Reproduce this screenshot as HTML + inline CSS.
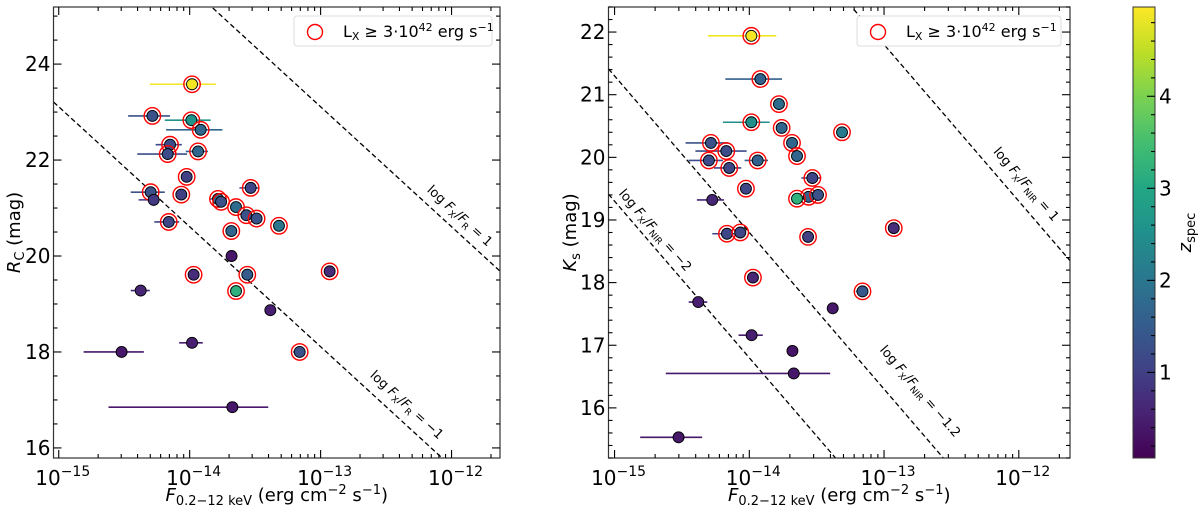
<!DOCTYPE html>
<html><head><meta charset="utf-8">
<style>
html,body{margin:0;padding:0;background:#fff;width:1200px;height:511px;overflow:hidden;}
svg{display:block;font-family:"DejaVu Sans","Liberation Sans",sans-serif;}
</style></head>
<body>
<svg id="fig" width="1200" height="511" viewBox="0 0 1200 511" xmlns="http://www.w3.org/2000/svg"></svg>
<script>
// ---------- DATA ----------
const leftLogF   = [-13.982,-14.285,-13.987,-13.916,-14.15,-14.168,-13.936,-14.023,-13.534,-14.298,-14.275,-14.064,-13.784,-13.76,-13.646,-13.567,-13.489,-13.318,-14.16,-13.682,-13.68,-12.931,-13.97,-13.56,-13.646,-14.374,-13.384,-13.982,-13.16,-14.52,-13.674];
const leftMag    = [23.58,22.92,22.83,22.63,22.32,22.125,22.18,21.65,21.42,21.33,21.17,21.28,21.19,21.13,21.02,20.85,20.78,20.63,20.71,20.52,20.0,19.68,19.61,19.61,19.27,19.28,18.87,18.19,18.0,18.0,16.85];
const leftErrLo  = [-14.305,-14.47,-14.19,-14.18,-14.26,-14.40,-14.03,null,-13.62,-14.45,-14.39,null,-13.85,null,null,null,null,null,-14.27,null,null,null,null,null,null,-14.45,null,-14.08,-13.21,-14.81,-14.62];
const leftErrHi  = [-13.80,-14.15,-13.84,-13.75,-14.06,-14.02,-13.86,null,-13.47,-14.19,-14.25,null,-13.72,null,null,null,null,null,-14.08,null,null,null,null,null,null,-14.305,null,-13.90,-13.12,-14.35,-13.40];
const leftZ      = [4.9,1.3,2.6,1.7,1.2,1.2,1.7,1.0,1.1,1.3,0.9,1.0,1.8,1.3,1.8,1.3,1.3,2.0,1.1,1.7,0.4,0.7,0.7,1.5,3.2,0.6,0.5,0.5,1.3,0.4,0.4];
const leftRing   = [1,1,1,1,1,1,1,1,1,1,0,1,1,1,1,1,1,1,1,1,0,1,1,1,1,0,0,0,1,0,0];
const rightLogF  = [-13.985,-13.918,-13.78,-13.985,-13.76,-13.312,-13.683,-14.285,-14.171,-13.646,-14.30,-13.938,-14.149,-13.532,-14.025,-13.56,-13.49,-13.646,-14.275,-12.928,-14.166,-14.067,-13.564,-13.973,-13.16,-14.379,-13.381,-13.983,-13.68,-13.67,-14.525];
const rightMag   = [21.94,21.25,20.85,20.56,20.47,20.40,20.23,20.23,20.10,20.02,19.95,19.95,19.83,19.67,19.50,19.37,19.40,19.34,19.32,18.87,18.78,18.80,18.73,18.08,17.86,17.69,17.59,17.16,16.91,16.55,15.53];
const rightErrLo = [-14.307,-14.178,-13.82,-14.196,null,null,null,-14.473,-14.40,null,-14.45,-14.035,-14.262,-13.614,null,null,null,null,-14.389,null,-14.275,null,null,null,-13.21,-14.45,null,-14.08,null,-14.62,-14.81];
const rightErrHi = [-13.80,-13.757,-13.74,-13.849,null,null,null,-14.158,-14.02,null,-14.196,-13.861,-14.06,-13.465,null,null,null,null,-14.188,null,-14.10,null,null,null,-13.12,-14.312,null,-13.90,null,-13.40,-14.35];
const rightZ     = [4.9,1.6,1.8,2.5,1.7,2.1,1.7,1.3,1.2,1.7,1.2,1.6,1.1,1.1,1.1,1.6,1.3,3.2,0.6,0.7,1.1,1.1,1.0,0.6,1.4,0.5,0.4,0.5,0.35,0.4,0.4];
const rightRing  = [1,1,1,1,1,1,1,1,1,1,1,1,1,1,1,1,1,1,0,1,1,1,1,1,1,0,0,0,0,0,0];
const leftLineK  = [1,-1];
const rightLineK = [1,-1.2,-2];
const leftYTicks = [16,18,20,22,24];
const rightYTicks= [16,17,18,19,20,21,22];
const xTickExp   = [-15,-14,-13,-12];
const cbarTicks  = [1,2,3,4];

// ---------- HELPERS ----------
const NS="http://www.w3.org/2000/svg";
const svg=document.getElementById('fig');
function mk(tag,attrs,parent){const e=document.createElementNS(NS,tag);for(const k in attrs)e.setAttribute(k,attrs[k]);(parent||svg).appendChild(e);return e;}
const VIR=[[68,1,84],[72,35,116],[64,67,135],[52,94,141],[41,120,142],[32,144,140],[34,167,132],[68,190,112],[121,209,81],[189,222,38],[253,231,37]];
const ZMIN=0.07,ZMAX=4.97;
function vir(t){t=Math.max(0,Math.min(1,t));const s=t*(VIR.length-1);const i=Math.min(VIR.length-2,Math.floor(s));const f=s-i;const a=VIR[i],b=VIR[i+1];return `rgb(${Math.round(a[0]+(b[0]-a[0])*f)},${Math.round(a[1]+(b[1]-a[1])*f)},${Math.round(a[2]+(b[2]-a[2])*f)})`;}
function zc(z){return vir((z-ZMIN)/(ZMAX-ZMIN));}

function panel(cfg){
  const g=mk('g',{});
  
  
  const {x0,x1,y0,y1,lx0,lx1,m0,m1}=cfg;
  const X=v=>x0+(v-lx0)/(lx1-lx0)*(x1-x0);
  const Y=v=>y1-(v-m0)/(m1-m0)*(y1-y0);
  const clip='clip-'+cfg.name;
  const cp=mk('clipPath',{id:clip},g);mk('rect',{x:x0,y:y0,width:x1-x0,height:y1-y0},cp);
  const plot=mk('g',{'clip-path':`url(#${clip})`},g);
  cfg.lineK.forEach((k,i)=>{
    const f=l=>2.5*(k-l)+cfg.c;
    const ln=mk('line',{x1:X(lx0),y1:Y(f(lx0)),x2:X(lx1),y2:Y(f(lx1)),stroke:'#000','stroke-width':1.3,'stroke-dasharray':'5,3'},plot);
    
    
  });
  cfg.F.forEach((v,i)=>{
    if(cfg.lo[i]==null)return;
    const e=mk('line',{x1:X(cfg.lo[i]),x2:X(cfg.hi[i]),y1:Y(cfg.M[i]),y2:Y(cfg.M[i]),stroke:zc(cfg.Z[i]),'stroke-width':1.6},plot);
    
    
  });
  cfg.F.forEach((v,i)=>{
    const c=mk('circle',{cx:X(v),cy:Y(cfg.M[i]),r:5.5,fill:zc(cfg.Z[i]),stroke:'#000','stroke-width':0.9},plot);
    
    
    if(cfg.ring[i]){
      const r=mk('circle',{cx:X(v),cy:Y(cfg.M[i]),r:8.2,fill:'none',stroke:'#f00','stroke-width':1.4},plot);
      
      
    }
  });
  mk('rect',{x:x0,y:y0,width:x1-x0,height:y1-y0,fill:'none',stroke:'#333','stroke-width':1.2},g);
  for(let d=-16;d<=-11;d++){
    for(let m=1;m<10;m++){
      const l=d+Math.log10(m);
      if(l<lx0||l>lx1)continue;
      const px=X(l),len=m===1?8:4;
      mk('line',{x1:px,x2:px,y1:y1,y2:y1-len,stroke:'#000','stroke-width':1.1},g);
      mk('line',{x1:px,x2:px,y1:y0,y2:y0+len,stroke:'#000','stroke-width':1.1},g);
    }
  }
  xTickExp.forEach(e=>{
    const t=mk('text',{x:X(e)+4,y:y1+27,'font-size':20,'text-anchor':'middle'},g);
    
    
    t.innerHTML=`10<tspan dy="-9" font-size="14">\u2212${-e}</tspan>`;
  });
  for(let v=Math.ceil(m0/cfg.minor)*cfg.minor;v<=m1+1e-9;v+=cfg.minor){
    const major=cfg.yTicks.some(t=>Math.abs(t-v)<1e-6);
    const len=major?8:4,py=Y(v);
    mk('line',{x1:x0,x2:x0+len,y1:py,y2:py,stroke:'#000','stroke-width':1.1},g);
    mk('line',{x1:x1,x2:x1-len,y1:py,y2:py,stroke:'#000','stroke-width':1.1},g);
  }
  cfg.yTicks.forEach(v=>{
    const t=mk('text',{x:x0-3,y:Y(v)+7,'font-size':20,'text-anchor':'end'},g);
    
    
    t.textContent=v;
  });
  const xl=mk('text',{x:(x0+x1)/2,y:501,'font-size':18,'text-anchor':'middle'},g);
  
  
  xl.innerHTML='<tspan font-style="italic">F</tspan><tspan font-size="13" dy="4">0.2\u221212 keV</tspan><tspan dy="-4"> (erg cm</tspan><tspan font-size="13" dy="-7">\u22122</tspan><tspan dy="7"> s</tspan><tspan font-size="13" dy="-7">\u22121</tspan><tspan dy="7">)</tspan>';
  const yl=mk('text',{x:0,y:0,'font-size':18,'text-anchor':'middle',transform:`translate(${cfg.ylx},${(y0+y1)/2}) rotate(-90)`},g);
  
  
  yl.innerHTML=cfg.ylabel;
  cfg.labels.forEach(L=>{
    const t=mk('text',{x:0,y:0,'font-size':13,'text-anchor':'middle',transform:`translate(${L.x},${L.y}) rotate(${L.a})`},g);
    
    
    t.innerHTML=`log <tspan font-style="italic">F</tspan><tspan font-size="9" dy="3">X</tspan><tspan dy="-3">/</tspan><tspan font-style="italic">F</tspan><tspan font-size="9" dy="3">${L.sub}</tspan><tspan dy="-3"> = ${L.k}</tspan>`;
  });
  const lg=mk('g',{},g);
  
  
  mk('rect',{x:cfg.legX,y:16,width:cfg.legW,height:30,rx:3,fill:'#fff',stroke:'#ddd','stroke-width':1},lg);
  mk('circle',{cx:cfg.legX+21,cy:32,r:7.5,fill:'none',stroke:'#f00','stroke-width':1.4},lg);
  const lt=mk('text',{x:cfg.legX+49,y:37,'font-size':16},lg);
  
  
  lt.innerHTML='L<tspan font-size="11" dy="3">X</tspan><tspan dy="-3"> \u2265 3\u00b710</tspan><tspan font-size="11" dy="-6">42</tspan><tspan dy="6"> erg s</tspan><tspan font-size="11" dy="-6">\u22121</tspan>';
}

panel({name:'left-panel',x0:53.5,x1:500,y0:7,y1:458,lx0:-15.04,lx1:-11.63,m0:15.79,m1:25.19,
  F:leftLogF,M:leftMag,lo:leftErrLo,hi:leftErrHi,Z:leftZ,ring:leftRing,lineK:leftLineK,c:-11.89,
  yTicks:leftYTicks,minor:0.5,ylx:20,ylabel:'<tspan font-style="italic">R</tspan><tspan font-size="13" dy="4">C</tspan><tspan dy="-4"> (mag)</tspan>',
  legX:294,legW:198,
  labels:[{x:457,y:219,a:42.6,sub:'R',k:'1'},{x:404,y:408,a:42.6,sub:'R',k:'\u22121'}]});
panel({name:'right-panel',x0:608.5,x1:1070,y0:7,y1:458,lx0:-15.045,lx1:-11.62,m0:15.2,m1:22.4,
  F:rightLogF,M:rightMag,lo:rightErrLo,hi:rightErrHi,Z:rightZ,ring:rightRing,lineK:rightLineK,c:-13.2,
  yTicks:rightYTicks,minor:0.2,ylx:576,ylabel:'<tspan font-style="italic">K</tspan><tspan font-size="13" dy="4">s</tspan><tspan dy="-4"> (mag)</tspan>',
  legX:857,legW:204,
  labels:[{x:1023,y:187,a:49.3,sub:'NIR',k:'1'},{x:917,y:394,a:49.3,sub:'NIR',k:'\u22121.2'},{x:652,y:233,a:49.3,sub:'NIR',k:'\u22122'}]});

// ---------- COLORBAR ----------
(function(){
  const cx0=1133,cx1=1155,cy0=7,cy1=458;
  const CY=z=>cy1-(z-ZMIN)/(ZMAX-ZMIN)*(cy1-cy0);
  const cb=mk('g',{});
  
  
  const defs=mk('defs',{},cb);
  const gr=mk('linearGradient',{id:'vgrad',x1:0,y1:1,x2:0,y2:0},defs);
  for(let i=0;i<=20;i++)mk('stop',{offset:(i/20),'stop-color':vir(i/20)},gr);
  mk('rect',{x:cx0,y:cy0,width:cx1-cx0,height:cy1-cy0,fill:'url(#vgrad)',stroke:'#333','stroke-width':1},cb);
  for(let z=0.2;z<ZMAX;z+=0.2){
    const major=cbarTicks.some(t=>Math.abs(t-z)<1e-6);
    mk('line',{x1:cx1,x2:cx1-(major?8:4),y1:CY(z),y2:CY(z),stroke:'#000','stroke-width':1.1},cb);
  }
  cbarTicks.forEach(v=>{
    const t=mk('text',{x:cx1+4,y:CY(v)+7,'font-size':20},cb);
    
    
    t.textContent=v;
  });
  const t=mk('text',{x:0,y:0,'font-size':18,'text-anchor':'middle',transform:`translate(1191,${(cy0+cy1)/2}) rotate(-90)`},cb);
  
  
  t.innerHTML='<tspan font-style="italic">z</tspan><tspan font-size="13" dy="4">spec</tspan>';
})();
</script>
</body></html>
